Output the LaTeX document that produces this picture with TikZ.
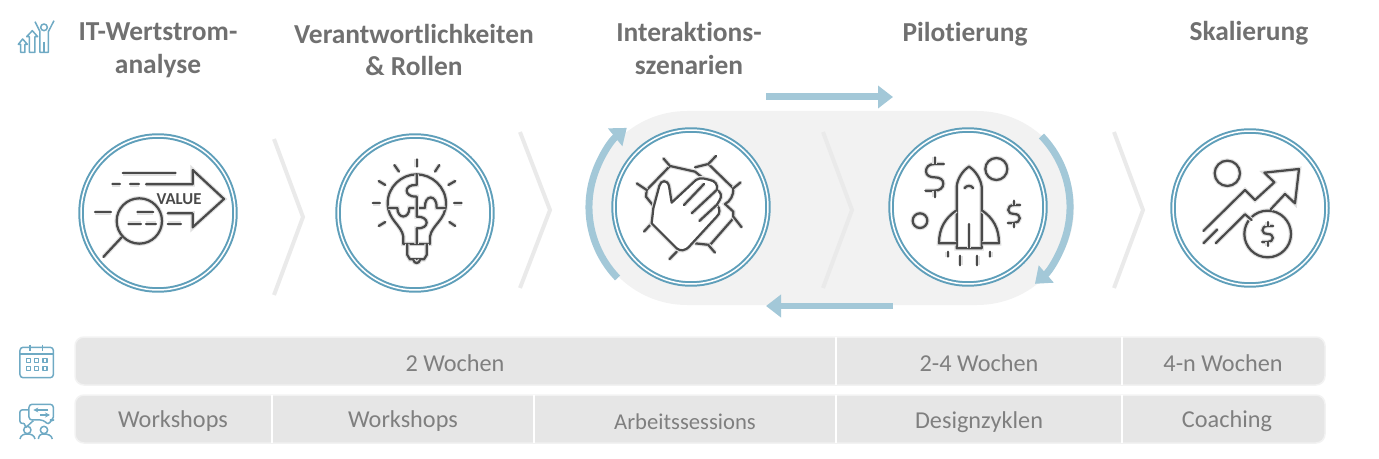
\documentclass[tikz,border=0pt]{standalone}
\usepackage{fontspec}
\setmainfont[Ligatures=NoCommon]{Carlito}
\usetikzlibrary{arrows.meta}
\definecolor{ringblue}{HTML}{5F9FBA}
\definecolor{flowblue}{HTML}{A3C8D8}
\definecolor{smallblue}{HTML}{6FAAC4}
\definecolor{iconline}{HTML}{4A4A4A}
\definecolor{headgray}{HTML}{707070}
\definecolor{cellgray}{HTML}{7F7F7F}
\definecolor{barfill}{HTML}{E6E6E6}
\definecolor{pillfill}{HTML}{F2F2F2}
\definecolor{chevgray}{HTML}{EAEAEA}
\tikzset{
  dollaricon/.pic={
    \draw[icon] (28,-40) -- (0,-40) .. controls (-18,-40) and (-26,-30) .. (-26,-18) .. controls (-26,-4) and (-12,0) .. (0,0) .. controls (16,0) and (26,7) .. (26,19) .. controls (26,32) and (14,40) .. (0,40) -- (-28,40);
    \draw[icon] (0,-60) -- (0,-40) (0,40) -- (0,60);
  }
}
\begin{document}
\begin{tikzpicture}[x=0.02cm, y=-0.02cm,
    zoomed/.style={x=0.006667cm, y=-0.006667cm},
    head/.style={text=headgray, font=\fontsize{15.6}{18.6}\selectfont\bfseries, align=center},
    cell/.style={text=cellgray, font=\fontsize{13.8}{16}\selectfont},
    ring/.style={circle, draw=ringblue, line width=0.04cm, double=white, double distance=0.03cm, fill=white, minimum size=3.08cm, inner sep=0pt, outer sep=0pt},
    flow/.style={draw=flowblue, line width=0.14cm, -{Triangle[length=0.3cm, width=0.44cm]}},
    chev/.style={draw=chevgray, line width=0.08cm},
    bar/.style={fill=barfill, draw=pillfill, line width=0.03cm, rounded corners=0.18cm},
    divider/.style={draw=white, line width=0.04cm},
    icon/.style={draw=iconline, line width=0.045cm, line cap=round, line join=round, preaction={draw=black!12, line width=0.09cm}},
    small/.style={draw=smallblue, line width=0.03cm, line join=round}]
  \useasboundingbox (0,0) rectangle (1379,459);

  \fill[pillfill] (687,111) -- (977,111) arc[start angle=-90, end angle=90, radius=97] -- (687,305) arc[start angle=90, end angle=270, radius=97] -- cycle;

  \draw[chev] (274,139) -- (303,217) -- (274,295);
  \draw[chev] (520,132) -- (550,210) -- (520,288);
  \draw[chev] (823,132) -- (852,210) -- (823,288);
  \draw[chev] (1114,132) -- (1143,210) -- (1114,288);

  \node[ring] (wert) at (158,213) {};
  \node[ring] (rollen) at (415,213) {};
  \node[ring] (inter) at (691,207) {};
  \node[ring] (pilot) at (968,207) {};
  \node[ring] (skal) at (1250,208) {};

  \coordinate (topstart) at (766,97);
  \coordinate (topend) at (893,97);
  \coordinate (botstart) at (893,306);
  \coordinate (botend) at (766,306);
  \coordinate (loopleft) at (617.6,278);
  \coordinate (loopright) at (1041.4,136);
  \path[flow] (topstart) -- (topend);
  \path[flow] (botstart) -- (botend);
  \path[flow] (loopleft) arc[start angle=136, end angle=231, radius=102];
  \path[flow] (loopright) arc[start angle=-44, end angle=49, radius=102];

  \node[head] (h1) at (158,50) {IT-Wertstrom-\\analyse};
  \node[head] (h2) at (414,50) {Verantwortlichkeiten\\\&~Rollen};
  \node[head] (h3) at (689,48.5) {Interaktions-\\szenarien};
  \node[head] (h4) at (965,34) {Pilotierung};
  \node[head] (h5) at (1249,33) {Skalierung};

  \path[bar] (75,337) rectangle (1325,385);
  \path[bar] (75,395) rectangle (1325,443);
  \path[divider] (836,337) -- (836,385);
  \path[divider] (1122,337) -- (1122,385);
  \foreach \dx in {272,534,836,1122}
    \path[divider] (\dx,395) -- (\dx,443);

  \node[cell] (t1) at (455,363) {2 Wochen};
  \node[cell] (t2) at (979,363) {2-4 Wochen};
  \node[cell] (t3) at (1223,363) {4-n Wochen};
  \node[cell] (w1) at (173,421) {Workshops};
  \node[cell] (w2) at (403,421) {Workshops};
  \node[cell, font=\fontsize{12.9}{16}\selectfont] (w3) at (685,422) {Arbeitssessions};
  \node[cell] (w4) at (979,422) {Designzyklen};
  \node[cell] (w5) at (1227,421.5) {Coaching};

  \begin{scope}[zoomed]
    \draw[small] (62,157) -- (62,133) -- (55,133) -- (68,117) -- (82,133) -- (75,133) -- (75,157) -- cycle;
    \draw[small] (88,157) -- (88,110) -- (80,110) -- (97,92) -- (113,110) -- (105,110) -- (105,157) -- cycle;
    \draw[small] (132,82) circle[radius=10];
    \draw[small] (105,65) -- (120,95) -- (120,157) -- (145,157) -- (145,95) -- (162,62);
    \draw[small] (132,125) -- (132,157);
    \draw[icon] (368,520) -- (527,520);
    \draw[icon] (337,553) -- (360,553) (390,553) -- (417,553);
    \draw[icon] (438,553) -- (578,553) -- (578,510) -- (672,597) -- (578,682) -- (578,640) -- (503,640);
    \draw[icon] (285,637) -- (333,637) (412,637) -- (460,637);
    \draw[icon] (385,671) -- (423,671) (438,671) -- (468,671) (503,671) -- (543,671);
    \draw[icon] (418,663) circle[radius=68];
    \draw[icon] (365,712) -- (310,771);
    \node[text=iconline, font=\fontsize{9.5}{10}\selectfont\bfseries] (valuetext) at (537,597) {VALUE};
  \end{scope}

  \begin{scope}[shift={(0,330)}, zoomed]
    \draw[small, rounded corners=0.06cm] (60,52) rectangle (160,143);
    \draw[small] (60,72) -- (160,72);
    \draw[small] (90,44) -- (90,62) (128,44) -- (128,62);
    \foreach \cx in {85,110,135}
      \foreach \cy in {92,116}
        \draw[small] (\cx-6,\cy-6) rectangle (\cx+6,\cy+6);
    \draw[small, rounded corners=0.06cm] (87,223) -- (160,223) -- (160,270) -- (152,270) -- (146,285) -- (130,270) -- (87,270) -- cycle;
    \draw[small, rounded corners=0.04cm] (85,240) -- (60,240) -- (60,280) -- (72,280);
    \draw[small] (72,280) -- (78,292) -- (100,272);
    \draw[small, -{Stealth[length=0.1cm, width=0.1cm]}] (145,240) -- (100,240);
    \draw[small, -{Stealth[length=0.1cm, width=0.1cm]}] (120,255) -- (150,255);
    \draw[small] (82,300) circle[radius=11] (132,300) circle[radius=11];
    \draw[small] (60,327) .. controls (62,315) and (72,312) .. (82,312) .. controls (92,312) and (103,315) .. (105,327);
    \draw[small] (115,327) .. controls (117,315) and (122,312) .. (132,312) .. controls (142,312) and (155,315) .. (157,327);
  \end{scope}

  \begin{scope}[shift={(320,120)}, zoomed]
    \foreach \ax/\ay/\bx/\by in {290/118/290/140, 223/135/237/155, 345/155/358/135, 176/183/196/195, 385/195/406/183, 158/250/180/250, 402/250/425/250, 176/318/196/306, 388/306/406/318}
      \draw[icon] (\ax,\ay) -- (\bx,\by);
    \draw[icon] (250,372) -- (250,350) .. controls (245,315) and (203,300) .. (203,250) .. controls (203,200) and (245,163) .. (290,163) .. controls (335,163) and (378,200) .. (378,250) .. controls (378,300) and (335,315) .. (330,350) -- (330,372) -- cycle;
    \draw[icon] (262,372) -- (262,405) -- (270,418) -- (312,418) -- (320,405) -- (320,372);
    \draw[icon] (280,420) .. controls (283,432) and (297,432) .. (300,420);
    \draw[icon] (205,264) -- (232,264) .. controls (232,298) and (268,298) .. (268,264) -- (315,264) .. controls (312,222) and (352,222) .. (350,264) -- (376,264);
    \draw[icon] (290,163) -- (290,195) .. controls (250,192) and (250,232) .. (290,230) -- (290,290) .. controls (330,288) and (330,328) .. (290,325) -- (290,372);
  \end{scope}

  \begin{scope}[shift={(570,80)}, zoomed]
    \draw[icon] (252,380) -- (228,350) -- (230,330) -- (300,258) -- (375,275) -- (400,295);
    \draw[icon] (375,262) -- (415,252) -- (490,325) .. controls (492,345) and (480,365) .. (465,372) -- (490,395) -- (490,415) -- (420,495) -- (375,490);
    \foreach \ax/\ay/\bx/\by in {280/235/300/258, 200/310/230/330, 415/252/438/228, 490/325/512/307, 490/410/515/442, 245/430/222/455, 325/510/298/538, 415/495/435/518}
      \draw[icon] (\ax,\ay) -- (\bx,\by);
    \draw[fill=white, icon] (245,430) -- (250,385) -- (268,318) .. controls (272,300) and (292,298) .. (297,318) -- (305,368) -- (378,300) .. controls (392,290) and (410,298) .. (420,300) .. controls (435,302) and (445,315) .. (440,330) .. controls (452,335) and (458,348) .. (448,362) -- (440,375) .. controls (452,385) and (450,402) .. (440,410) -- (360,497) .. controls (345,515) and (330,513) .. (320,505) -- cycle;
    \draw[icon] (342,375) -- (402,312);
    \draw[icon] (365,400) -- (440,330);
    \draw[icon] (388,423) -- (440,375);
  \end{scope}

  \begin{scope}[shift={(860,80)}, zoomed]
    \draw[icon] (290,505) -- (290,320) .. controls (292,295) and (310,270) .. (327,260) .. controls (344,270) and (362,295) .. (365,320) -- (365,505) -- cycle;
    \draw[icon] (327,432) -- (327,505);
    \draw[icon] (313,325) .. controls (320,315) and (334,315) .. (340,325);
    \draw[icon] (288,392) .. controls (255,415) and (237,445) .. (237,490) -- (288,490);
    \draw[icon] (367,392) .. controls (400,415) and (417,445) .. (417,490) -- (367,490);
    \draw[icon] (263,515) -- (263,530) (301,527) -- (301,556) (352,527) -- (352,556) (391,515) -- (391,530);
    \draw[icon] (409,267) circle[radius=33];
    \draw[icon] (180,422) circle[radius=22];
    \pic at (224,292) {dollaricon};
    \pic[scale=0.67] at (462,402) {dollaricon};
  \end{scope}

  \begin{scope}[shift={(1100,120)}, zoomed]
    \draw[icon] (382,160) circle[radius=38];
    \draw[icon] (503,342) circle[radius=70];
    \draw[icon] (310,333) -- (435,210) -- (465,240) -- (523,187) -- (493,158) -- (597,147) -- (585,250) -- (555,222) -- (512,268);
    \draw[icon] (310,370) -- (352,328);
    \draw[icon] (347,370) -- (435,283) -- (455,300);
    \pic[scale=0.6] at (503,342) {dollaricon};
  \end{scope}
\end{tikzpicture}
\end{document}
